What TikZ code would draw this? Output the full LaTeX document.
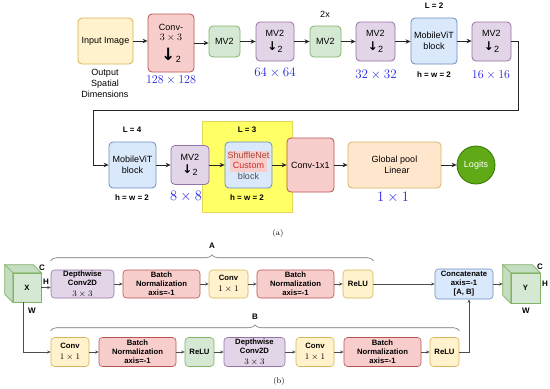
\documentclass[tikz,border=0pt]{standalone}
\usepackage{fix-cm}
\usepackage[no-math]{fontspec}
\setsansfont{Liberation Sans}
\newfontfamily\arrfont{DejaVu Sans}
\usepackage{tikz}
\usetikzlibrary{positioning,arrows.meta,calc,decorations.pathreplacing}
\definecolor{lyel}{RGB}{255,242,204}
\definecolor{dyel}{RGB}{214,182,86}
\definecolor{lpnk}{RGB}{248,206,204}
\definecolor{dpnk}{RGB}{184,84,80}
\definecolor{lgrn}{RGB}{213,232,212}
\definecolor{dgrn}{RGB}{130,179,102}
\definecolor{lpur}{RGB}{225,213,231}
\definecolor{dpur}{RGB}{150,115,166}
\definecolor{lblu}{RGB}{218,232,252}
\definecolor{dblu}{RGB}{108,142,191}
\definecolor{lorg}{RGB}{255,230,204}
\definecolor{dorg}{RGB}{214,182,100}
\definecolor{logit}{RGB}{96,169,23}
\definecolor{dlogit}{RGB}{45,118,0}
\definecolor{hilite}{RGB}{255,255,102}
\definecolor{dhilite}{RGB}{230,214,90}
\definecolor{dimblue}{RGB}{35,35,225}
\definecolor{cubeside}{RGB}{196,220,192}
\definecolor{shufred}{RGB}{170,70,60}
\definecolor{custred}{RGB}{205,40,40}
\tikzset{
  blk/.style={rounded corners=4pt, line width=0.8pt, align=center, inner sep=1pt, font=\sffamily\fontsize{9}{10.5}\selectfont},
  lay/.style={blk, rounded corners=3.5pt, line width=0.6pt, font=\sffamily\bfseries\fontsize{7.7}{9}\selectfont},
  sz/.style 2 args={minimum width=#1pt, minimum height=#2pt},
  yel/.style={draw=dyel, fill=lyel},
  pnk/.style={draw=dpnk, fill=lpnk},
  grn/.style={draw=dgrn, fill=lgrn},
  pur/.style={draw=dpur, fill=lpur},
  blu/.style={draw=dblu, fill=lblu},
  org/.style={draw=dorg, fill=lorg},
  arr/.style={-{Stealth[length=5pt,width=4.5pt]}, line width=0.9pt, draw=black!85},
  thn/.style={-{Stealth[length=3.5pt,width=3pt]}, line width=0.6pt, draw=black!70},
  dim/.style={text=dimblue, inner sep=0pt},
  tag/.style={font=\sffamily\bfseries\fontsize{8}{9}\selectfont, inner sep=0pt},
  txt/.style={font=\sffamily\fontsize{9}{11}\selectfont, inner sep=0pt, align=center},
  brc/.style={decorate, decoration={brace, amplitude=6pt}, line width=0.6pt, draw=black!55},
}
\newcommand{\dsub}[1]{{\arrfont\bfseries\fontsize{#1}{#1}\selectfont ↓}\kern0.3pt\raisebox{-2pt}{2}}
\newcommand{\mathline}[1]{{\mdseries\rmfamily\fontsize{8.5}{8.5}\selectfont$#1$}}

\begin{document}
\begin{tikzpicture}[x=1pt,y=-1pt]
  \useasboundingbox (0,0) rectangle (550,389);
  % (a) first row
  \node[blk, yel, sz={55}{46}] (inp) at (105.5,41) {Input Image};
  \node[blk, pnk, sz={46}{58}] (conv3) at (171,43) {Conv-\\{\rmfamily\fontsize{10}{11}\selectfont$3\times3$}\\[5pt]\dsub{17}};
  \node[blk, grn, sz={31}{31}] (mva) at (224.5,41.5) {MV2};
  \node[blk, pur, sz={38}{39}] (mvb) at (275,41.5) {MV2\\[3pt]\dsub{12}};
  \node[blk, grn, sz={31}{31}] (mvc) at (325.5,41.5) {MV2};
  \node[blk, pur, sz={39}{39}] (mvd) at (375.5,41.5) {MV2\\[3pt]\dsub{12}};
  \node[blk, blu, sz={46}{46}] (vit1) at (434,41) {MobileViT\\block};
  \node[blk, pur, sz={39}{39}] (mve) at (491.5,41.5) {MV2\\[3pt]\dsub{12}};
  \foreach \a/\b in {inp/conv3, conv3/mva, mva/mvb, mvb/mvc, mvc/mvd, mvd/vit1, vit1/mve}
    \draw[arr] (\a.east) -- (\a.east -| \b.west);

  \node[txt] (osd) at (105,83) {Output\\Spatial\\Dimensions};
  \node[dim, font=\fontsize{12}{12}\selectfont] (d128) at (171,80) {$128\times128$};
  \node[dim, font=\fontsize{13}{13}\selectfont] (d64) at (275,73) {$64\times64$};
  \node[txt] (twox) at (325,14) {2x};
  \node[dim, font=\fontsize{13}{13}\selectfont] (d32) at (376,75) {$32\times32$};
  \node[tag] (l2) at (434,6) {L = 2};
  \node[tag] (hw1) at (434,75) {h = w = 2};
  \node[dim, font=\fontsize{12}{12}\selectfont] (d16) at (491,75) {$16\times16$};

  % (a) second row
  \node[draw=dhilite, fill=hilite, sz={90}{91}] (hl) at (247,166.5) {};
  \node[blk, blu, sz={47}{46}] (vit2) at (132.5,165) {MobileViT\\block};
  \node[blk, pur, sz={38}{39}] (mvf) at (190,165) {MV2\\[3pt]\dsub{12}};
  \node[blk, blu, sz={47}{46}] (shuf) at (248.5,165) {\fboxsep=0.6pt\colorbox{lpnk}{\textcolor{shufred}{ShuffleNet}}\\\colorbox{lpnk}{\textcolor{custred}{Custom}}\\\textcolor{black!70}{block}};
  \node[blk, pnk, sz={47}{54}] (conv1) at (310.5,165) {Conv-1x1};
  \node[blk, org, sz={93}{46}] (gpool) at (394.5,165) {Global pool\\ \ \ Linear};
  \node[circle, draw=dlogit, fill=logit, line width=0.8pt, minimum size=38pt, inner sep=0pt, text=white, font=\sffamily\fontsize{9}{10}\selectfont] (logits) at (476,165) {Logits};
  \coordinate (wrap) at (93,110);
  \draw[arr] (mve.east) -- ++(7,0) |- (wrap) |- (vit2.west);
  \foreach \a/\b in {vit2/mvf, mvf/shuf, shuf/conv1, conv1/gpool, gpool/logits}
    \draw[arr] (\a.east) -- (\a.east -| \b.west);

  \node[tag] (l4) at (132,130) {L = 4};
  \node[tag] (hw2) at (132,198) {h = w = 2};
  \node[dim, font=\fontsize{14.4}{14.4}\selectfont] (d8) at (186,196) {$8\times8$};
  \node[tag] (l3) at (247,130) {L = 3};
  \node[tag] (hw3) at (247,198) {h = w = 2};
  \node[dim, font=\fontsize{14.4}{14.4}\selectfont] (d1) at (393,197) {$1\times1$};
  \node[font=\fontsize{8}{9}\selectfont] (capa) at (278,233) {(a)};

  % (b) cubes
  \node[lay, grn, rounded corners=0pt, sz={28}{29}] (X) at (27,287.5) {X};
  \filldraw[fill=cubeside, draw=dgrn, line width=0.6pt] (X.north west) -- ++(-8,-8) -- ($(X.north east)+(-8,-8)$) -- (X.north east) -- cycle;
  \filldraw[fill=cubeside, draw=dgrn, line width=0.6pt] (X.north west) -- ++(-8,-8) -- ($(X.south west)+(-8,-8)$) -- (X.south west) -- cycle;
  \node[lay, grn, rounded corners=0pt, sz={29}{30}] (Y) at (525.5,288) {Y};
  \filldraw[fill=cubeside, draw=dgrn, line width=0.6pt] (Y.north west) -- ++(-8,-8) -- ($(Y.north east)+(-8,-8)$) -- (Y.north east) -- cycle;
  \filldraw[fill=cubeside, draw=dgrn, line width=0.6pt] (Y.north west) -- ++(-8,-8) -- ($(Y.south west)+(-8,-8)$) -- (Y.south west) -- cycle;
  \coordinate (yin) at ($(Y.west)+(-8,-4)$);
  \node[tag] (xc) at (42,268) {C};
  \node[tag] (xh) at (46,282) {H};
  \node[tag] (xw) at (32,311) {W};
  \node[tag] (yc) at (540,267) {C};
  \node[tag] (yh) at (545,284) {H};
  \node[tag] (yw) at (526,311) {W};

  % (b) branch A
  \node[lay, pur, sz={63}{28}] (dw1) at (82.5,284) {Depthwise\\Conv2D\\[1.5pt]\mathline{3\times3}};
  \node[lay, pnk, sz={77}{28}] (bn1) at (161.5,284) {Batch\\Normalization\\axis=-1};
  \node[lay, yel, sz={39}{28}] (cv1) at (228.5,284) {Conv\\[2pt]\mathline{1\times1}};
  \node[lay, pnk, sz={77}{28}] (bn2) at (295.5,284) {Batch\\Normalization\\axis=-1};
  \node[lay, yel, sz={30}{28}] (re1) at (358,284) {ReLU};
  \node[lay, blu, sz={58}{30}] (cat) at (464,284) {Concatenate\\axis=-1\\{[A, B]}};
  \draw[thn] (X.east) -- (X.east -| dw1.west);
  \foreach \a/\b in {dw1/bn1, bn1/cv1, cv1/bn2, bn2/re1, re1/cat}
    \draw[thn] (\a) -- (\b);
  \draw[thn] (cat.east) -- (yin);

  % (b) branch B
  \node[lay, yel, sz={38}{29}] (cv2) at (70,352) {Conv\\[2pt]\mathline{1\times1}};
  \node[lay, pnk, sz={77}{29}] (bn3) at (137.5,352) {Batch\\Normalization\\axis=-1};
  \node[lay, grn, sz={29}{29}] (re2) at (199.5,352) {ReLU};
  \node[lay, pur, sz={61}{29}] (dw2) at (254.5,352) {Depthwise\\Conv2D\\[1.5pt]\mathline{3\times3}};
  \node[lay, yel, sz={38}{29}] (cv3) at (315,352) {Conv\\[2pt]\mathline{1\times1}};
  \node[lay, pnk, sz={77}{29}] (bn4) at (382.5,352) {Batch\\Normalization\\axis=-1};
  \node[lay, yel, sz={29}{29}] (re3) at (444.5,352) {ReLU};
  \draw[thn] ([xshift=-4pt]X.south) |- (cv2.west);
  \foreach \a/\b in {cv2/bn3, bn3/re2, re2/dw2, dw2/cv3, cv3/bn4, bn4/re3}
    \draw[thn] (\a) -- (\b);
  \draw[thn] (re3.east) -| ([xshift=5pt]cat.south);

  % braces
  \draw[brc] ([yshift=9pt]dw1.north west) -- ([yshift=9pt]re1.north east) node[tag, midway, above=12pt] (ba) {A};
  \draw[brc] ([yshift=6.5pt]cv2.north west) -- ([yshift=6.5pt]re3.north east) node[tag, midway, above=11pt] (bb) {B};
  \node[font=\fontsize{8}{9}\selectfont] (capb) at (279,381) {(b)};
\end{tikzpicture}
\end{document}
